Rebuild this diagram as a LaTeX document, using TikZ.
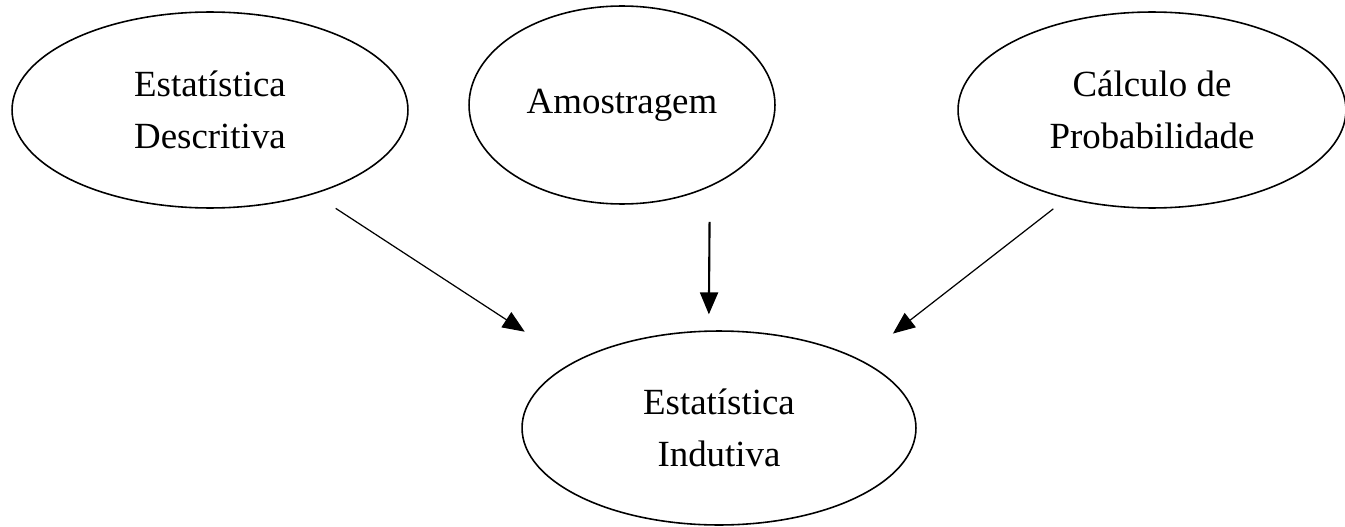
\documentclass[tikz,border=0pt]{standalone}
\usepackage{fontspec}
\setmainfont{Liberation Serif}
\usepackage{tikz}
\usetikzlibrary{arrows.meta, shapes.geometric}

\begin{document}
\begin{tikzpicture}[
    x=0.02cm,
    y=-0.02cm,
    bubble/.style={
        ellipse,
        draw=black,
        line width=0.9pt,
        inner sep=0pt,
        align=center,
        font=\fontsize{21}{29.6}\selectfont
    },
    arr/.style={
        -{Triangle[length=0.44cm, width=0.36cm]},
        line width=0.7pt
    }
]
\useasboundingbox (0,0) rectangle (1345,527);

% Top row: the three sources
\node[bubble, minimum width=7.92cm, minimum height=3.92cm] (desc) at (210,110) {Estatística\\Descritiva};
\node[bubble, minimum width=6.12cm, minimum height=3.96cm] (amost) at (622,105) {Amostragem};
\node[bubble, minimum width=7.76cm, minimum height=3.92cm] (prob) at (1152,110) {Cálculo de\\Probabilidade};

% Bottom: the target
\node[bubble, minimum width=7.88cm, minimum height=3.88cm] (ind) at (719,428) {Estatística\\Indutiva};

% Arrows into the target
\draw[arr, shorten <=0.52cm, shorten >=1.13cm] (desc.-39) -- (ind.156.9);
\draw[arr, line width=1.2pt, shorten <=0.70cm, shorten >=0.32cm] (amost.-43.6) -- (ind.96.5);
\draw[arr, shorten <=0.33cm, shorten >=0.84cm] (prob.-134) -- (ind.26.7);

\end{tikzpicture}
\end{document}
